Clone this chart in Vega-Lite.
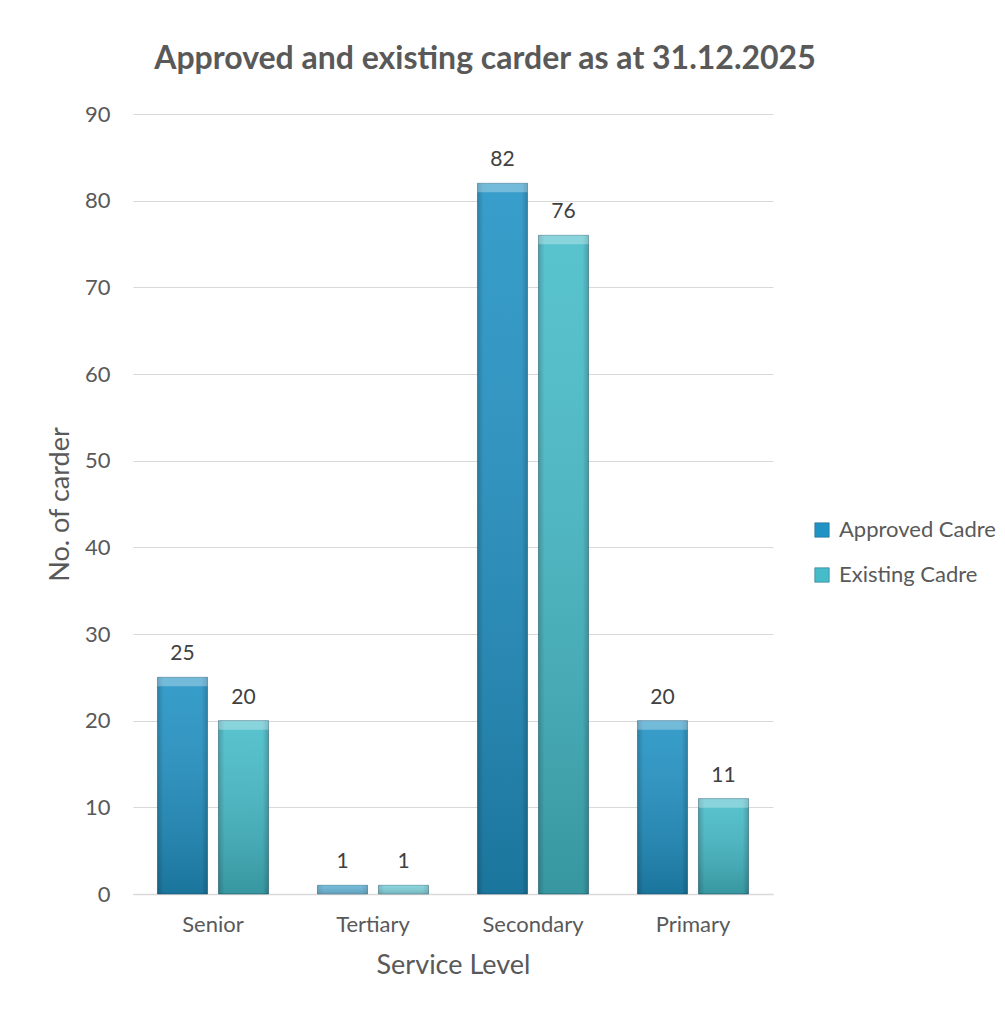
{
  "$schema": "https://vega.github.io/schema/vega-lite/v6.json",
  "autosize": {"type": "none"},
  "width": 640,
  "height": 780,
  "padding": {"left": 133, "top": 114, "right": 232, "bottom": 116},
  "background": "white",
  "title": {
    "text": "Approved and existing carder as at 31.12.2025",
    "font": "Lato",
    "fontSize": 32,
    "fontWeight": "bold",
    "color": "#595959",
    "anchor": "middle",
    "dx": 32,
    "offset": 27
  },
  "data": {
    "values": [
      {"Level": "Senior", "Series": "Approved Cadre", "Value": 25},
      {"Level": "Senior", "Series": "Existing Cadre", "Value": 20},
      {"Level": "Tertiary", "Series": "Approved Cadre", "Value": 1},
      {"Level": "Tertiary", "Series": "Existing Cadre", "Value": 1},
      {"Level": "Secondary", "Series": "Approved Cadre", "Value": 82},
      {"Level": "Secondary", "Series": "Existing Cadre", "Value": 76},
      {"Level": "Primary", "Series": "Approved Cadre", "Value": 20},
      {"Level": "Primary", "Series": "Existing Cadre", "Value": 11}
    ]
  },
  "encoding": {
    "x": {
      "field": "Level",
      "type": "nominal",
      "sort": ["Senior", "Tertiary", "Secondary", "Primary"],
      "scale": {"paddingInner": 0.306, "paddingOuter": 0.153},
      "axis": {
        "title": "Service Level",
        "labelAngle": 0,
        "labelFont": "Lato",
        "labelFontSize": 22,
        "labelColor": "#595959",
        "labelPadding": 20,
        "titleFont": "Lato",
        "titleFontSize": 27,
        "titleFontWeight": "normal",
        "titleColor": "#595959",
        "titlePadding": 17,
        "ticks": false,
        "domain": true,
        "domainColor": "#d9d9d9",
        "domainWidth": 1.5
      }
    },
    "xOffset": {
      "field": "Series",
      "type": "nominal",
      "sort": ["Approved Cadre", "Existing Cadre"],
      "scale": {"paddingInner": 0.18, "paddingOuter": 0}
    },
    "y": {
      "field": "Value",
      "type": "quantitative",
      "scale": {"domain": [0, 90], "nice": false},
      "axis": {
        "title": "No. of carder",
        "values": [0, 10, 20, 30, 40, 50, 60, 70, 80, 90],
        "labelFont": "Lato",
        "labelFontSize": 22,
        "labelColor": "#595959",
        "labelPadding": 23,
        "titleFont": "Lato",
        "titleFontSize": 27,
        "titleFontWeight": "normal",
        "titleColor": "#595959",
        "titlePadding": 10,
        "ticks": false,
        "domain": false,
        "grid": true,
        "gridColor": "#d9d9d9",
        "gridWidth": 1.2
      }
    }
  },
  "layer": [
    {
      "mark": {"type": "bar", "stroke": "#14506b", "strokeOpacity": 0.5, "strokeWidth": 1},
      "encoding": {
        "color": {
          "field": "Series",
          "type": "nominal",
          "sort": ["Approved Cadre", "Existing Cadre"],
          "scale": {"domain": ["Approved Cadre", "Existing Cadre"], "range": ["#2192c4", "#45bcc8"]},
          "legend": {
            "title": null,
            "orient": "none",
            "legendX": 678,
            "legendY": 405,
            "symbolType": "square",
            "symbolSize": 210,
            "symbolStrokeColor": "#1a5f80",
            "symbolStrokeWidth": 0.5,
            "labelFont": "Lato",
            "labelFontSize": 22,
            "labelColor": "#595959",
            "labelOffset": 6,
            "rowPadding": 23
          }
        }
      }
    },
    {
      "mark": {
        "type": "bar",
        "fill": {
          "gradient": "linear",
          "x1": 0, "y1": 0, "x2": 0, "y2": 1,
          "stops": [
            {"offset": 0, "color": "rgba(255,255,255,0.10)"},
            {"offset": 1, "color": "rgba(0,0,0,0.20)"}
          ]
        }
      },
      "encoding": {}
    },
    {
      "mark": {
        "type": "bar",
        "fill": {
          "gradient": "linear",
          "x1": 0, "y1": 0, "x2": 1, "y2": 0,
          "stops": [
            {"offset": 0, "color": "rgba(0,0,0,0.18)"},
            {"offset": 0.12, "color": "rgba(0,0,0,0)"},
            {"offset": 0.88, "color": "rgba(0,0,0,0)"},
            {"offset": 1, "color": "rgba(0,0,0,0.18)"}
          ]
        }
      },
      "encoding": {}
    },
    {
      "mark": {"type": "bar", "fill": "white", "opacity": 0.3, "y2Offset": 9},
      "encoding": {"y2": {"field": "Value"}}
    },
    {
      "mark": {"type": "text", "font": "Lato", "fontSize": 21, "color": "#404040", "baseline": "alphabetic", "dy": -17},
      "encoding": {"text": {"field": "Value", "type": "quantitative"}}
    }
  ],
  "config": {"view": {"stroke": null}}
}
